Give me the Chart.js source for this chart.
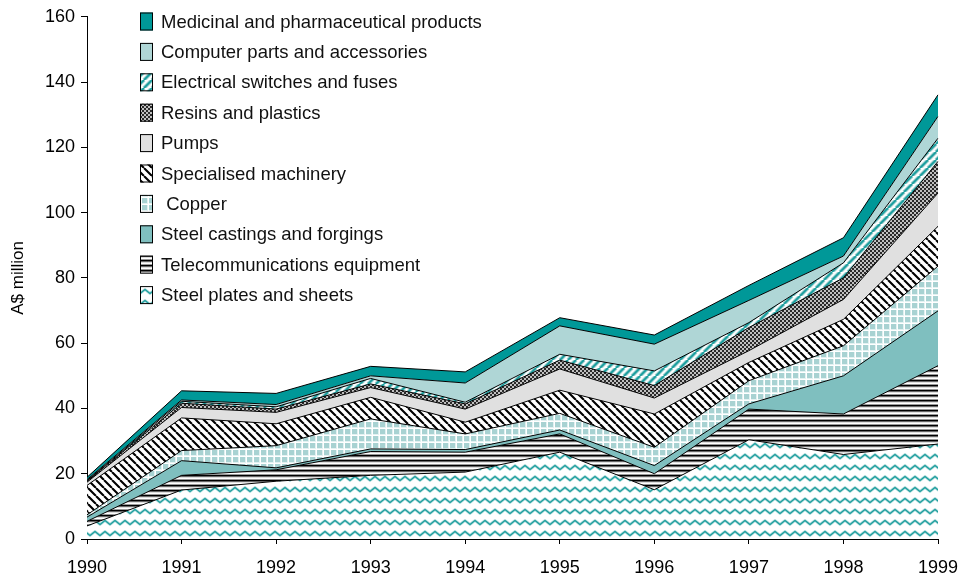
<!DOCTYPE html>
<html>
<head>
<meta charset="utf-8">
<script src="https://cdn.jsdelivr.net/npm/chart.js@4.4.1/dist/chart.umd.min.js"></script>
<style>
  html, body { margin: 0; padding: 0; background: #fff; }
  #chart { display: block; }
</style>
</head>
<body>
<canvas id="chart" width="967" height="580"></canvas>
<script>
// ---- data (A$ million) ----
const years = ['1990', '1991', '1992', '1993', '1994', '1995', '1996', '1997', '1998', '1999'];
const steelPlates   = [4.0, 15.0, 17.7, 19.5, 20.5, 26.6, 15.1, 30.4, 25.9, 29.1];
const telecom       = [1.4, 4.5, 3.5, 7.3, 6.1, 5.6, 4.9, 9.4, 12.4, 24.0];
const steelCastings = [1.3, 4.5, 0.6, 0.8, 0.8, 1.2, 2.5, 1.6, 11.7, 16.8];
const copper        = [0.7, 3.1, 6.8, 9.2, 4.8, 5.1, 5.6, 7.1, 9.2, 13.7];
const specialised   = [9.0, 10.0, 6.7, 6.6, 3.6, 7.1, 10.2, 5.6, 8.1, 12.2];
const pumps         = [1.0, 3.2, 3.5, 3.0, 4.0, 6.5, 4.9, 3.6, 6.1, 10.2];
const resins        = [0.3, 1.3, 1.0, 1.1, 1.6, 2.7, 3.8, 7.1, 6.6, 9.7];
const electrical    = [0.2, 0.6, 0.7, 1.7, 0.5, 1.8, 4.5, 1.5, 4.6, 7.1];
const computer      = [0.3, 0.4, 0.7, 0.8, 5.9, 8.7, 8.2, 6.8, 2.1, 6.7];
const medicinal     = [0.7, 2.8, 3.4, 2.9, 3.4, 2.5, 2.8, 4.6, 5.6, 6.6];
const yMin = 0, yMax = 160, yStep = 20;

const FONT = "'Liberation Sans', Arial, sans-serif";

/*------------------------------ fill patterns ------------------------------*/
function makePattern(w, h, draw) {
    const c = document.createElement('canvas');
    c.width = w; c.height = h;
    const g = c.getContext('2d');
    draw(g, w, h);
    return g.createPattern(c, 'repeat');
}

// teal waves on white
const wavePat = makePattern(10, 11, (g) => {
    g.fillStyle = '#fff'; g.fillRect(0, 0, 10, 11);
    g.lineJoin = 'round';
    const wave = () => {
        g.beginPath(); g.moveTo(-5, 3.5); g.lineTo(0, 7.5); g.lineTo(5, 3.5); g.lineTo(10, 7.5); g.lineTo(15, 3.5); g.stroke();
    };
    g.strokeStyle = '#a6d6d6'; g.lineWidth = 2.8; wave();
    g.strokeStyle = '#1a9d9d'; g.lineWidth = 1.1; wave();
});

// horizontal black / grey / white stripes
const stripePat = makePattern(4, 5, (g) => {
    const rows = ['#000', '#666', '#ddd', '#fff', '#999'];
    rows.forEach((c, i) => { g.fillStyle = c; g.fillRect(0, i, 4, 1); });
});

// light teal with white grid
const gridPat = makePattern(7, 7, (g) => {
    g.fillStyle = '#a8d2d2'; g.fillRect(0, 0, 7, 7);
    g.fillStyle = '#e2f1f1'; g.fillRect(0, 0, 7, 3); g.fillRect(0, 0, 3, 7);
    g.fillStyle = '#a8d2d2'; g.fillRect(2, 2, 5, 5);
    g.fillStyle = '#fff'; g.fillRect(0, 1, 7, 1); g.fillRect(1, 0, 1, 7);
});

// black diagonal stripes "\"
const diagPat = makePattern(8, 8, (g) => {
    g.fillStyle = '#fff'; g.fillRect(0, 0, 8, 8);
    g.strokeStyle = '#000'; g.lineWidth = 2.1;
    g.beginPath();
    for (let k = -1; k <= 1; k++) { g.moveTo(k * 8, 0); g.lineTo(k * 8 + 8, 8); }
    g.stroke();
});

// dark checker
const checkPat = makePattern(4, 4, (g) => {
    g.fillStyle = '#c0c0c0'; g.fillRect(0, 0, 4, 4);
    g.fillStyle = '#2a2a2a'; g.fillRect(0, 0, 2, 2); g.fillRect(2, 2, 2, 2);
});

// teal diagonal stripes "/"
const tealDiagPat = makePattern(8, 8, (g) => {
    g.fillStyle = '#fff'; g.fillRect(0, 0, 8, 8);
    g.strokeStyle = '#9fd0d0'; g.lineWidth = 4;
    g.beginPath();
    for (let k = -1; k <= 1; k++) { g.moveTo(k * 8, 8); g.lineTo(k * 8 + 8, 0); }
    g.stroke();
    g.strokeStyle = '#169c9c'; g.lineWidth = 1.8;
    g.beginPath();
    for (let k = -1; k <= 1; k++) { g.moveTo(k * 8, 8); g.lineTo(k * 8 + 8, 0); }
    g.stroke();
});

/*------------------------------ datasets ------------------------------*/
const series = [
    { label: 'Steel plates and sheets', data: steelPlates, bg: wavePat },
    { label: 'Telecommunications equipment', data: telecom, bg: stripePat },
    { label: 'Steel castings and forgings', data: steelCastings, bg: '#7fbfbf' },
    { label: ' Copper', data: copper, bg: gridPat },
    { label: 'Specialised machinery', data: specialised, bg: diagPat },
    { label: 'Pumps', data: pumps, bg: '#e0e0e0' },
    { label: 'Resins and plastics', data: resins, bg: checkPat },
    { label: 'Electrical switches and fuses', data: electrical, bg: tealDiagPat },
    { label: 'Computer parts and accessories', data: computer, bg: '#afd6d6' },
    { label: 'Medicinal and pharmaceutical products', data: medicinal, bg: '#009898' }
];

const datasets = series.map((s, i) => ({
    label: s.label,
    data: s.data,
    backgroundColor: s.bg,
    borderColor: '#000',
    borderWidth: 1,
    pointRadius: 0,
    tension: 0,
    fill: i === 0 ? 'origin' : '-1'
}));

// legend drawn inside the plot, top item first
const insideLegend = {
    id: 'insideLegend',
    afterDraw(chart) {
        const ctx = chart.ctx;
        const list = chart.data.datasets.slice().reverse();
        ctx.save();
        ctx.font = '18.5px ' + FONT;
        ctx.textBaseline = 'middle';
        list.forEach((ds, i) => {
            const cy = 21.5 + i * 30.4;
            ctx.fillStyle = ds.backgroundColor;
            ctx.fillRect(140, cy - 9, 13, 18);
            ctx.strokeStyle = '#000';
            ctx.lineWidth = 1;
            ctx.strokeRect(140.5, cy - 8.5, 12, 17);
            ctx.fillStyle = '#111';
            ctx.fillText(ds.label, 161, cy + 1);
        });
        ctx.restore();
    }
};

new Chart(document.getElementById('chart'), {
    type: 'line',
    data: { labels: years, datasets: datasets },
    options: {
        responsive: false,
        devicePixelRatio: 1,
        animation: false,
        layout: { padding: { top: 15, right: 29, left: 0, bottom: 0 } },
        plugins: { legend: { display: false }, tooltip: { enabled: false } },
        scales: {
            x: {
                offset: false,
                grid: { drawOnChartArea: false, drawTicks: true, tickLength: 5, color: '#000' },
                border: { color: '#000', width: 1 },
                ticks: { color: '#000', padding: 13, maxRotation: 0, font: { size: 18, family: FONT } },
                afterFit: (s) => { s.height = 41; s.paddingLeft = 0; s.paddingRight = 0; }
            },
            y: {
                stacked: true,
                min: yMin, max: yMax,
                grid: { drawOnChartArea: false, drawTicks: true, tickLength: 6, color: '#000' },
                border: { color: '#000', width: 1 },
                ticks: { stepSize: yStep, color: '#000', padding: 6, font: { size: 18, family: FONT } },
                title: { display: true, text: 'A$ million', color: '#000', padding: { top: 8, bottom: 0 }, font: { size: 17, family: FONT } },
                afterFit: (s) => { s.width = 87; }
            }
        }
    },
    plugins: [insideLegend]
});
</script>
</body>
</html>
